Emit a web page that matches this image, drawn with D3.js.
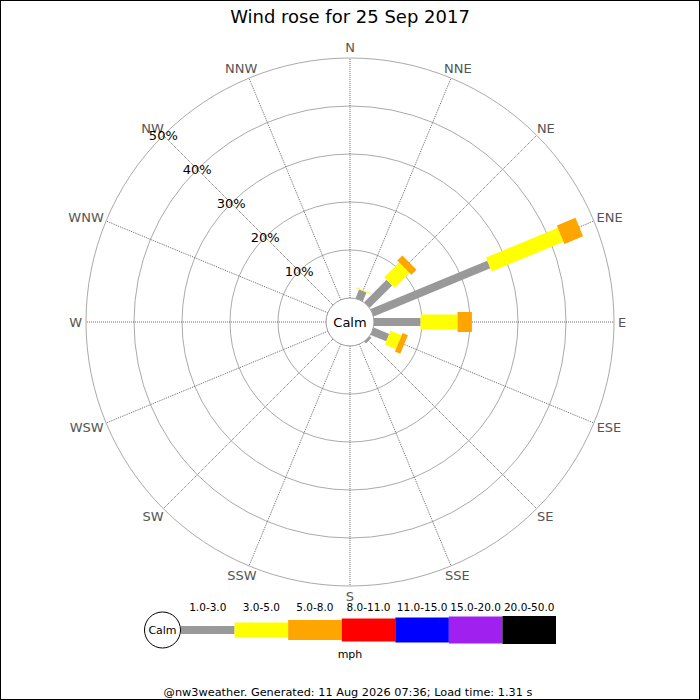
<!DOCTYPE html>
<html>
<head>
<meta charset="utf-8">
<script src="https://cdn.jsdelivr.net/npm/d3@7"></script>
<style>
  body { margin: 0; background: #fff; }
  text { font-family: "DejaVu Sans", sans-serif; }
</style>
</head>
<body>
<div id="chart"></div>
<script>
var width = 700, height = 700;
var cx = 350, cy = 322;

var directions = ["N","NNE","NE","ENE","E","ESE","SE","SSE","S","SSW","SW","WSW","W","WNW","NW","NNW"];
var speedBins = ["1.0-3.0","3.0-5.0","5.0-8.0","8.0-11.0","11.0-15.0","15.0-20.0","20.0-50.0"];
var binColors = ["#999999","#ffff00","#ffa500","#ff0000","#0000ff","#a020f0","#000000"];
var binWidths = [8, 15, 20, 23, 25, 27, 28];
var ringTicks = [10, 20, 30, 40, 50];

// % of time per direction, one array per speed bin
var bin1to3 = [0, 2.0, 6.6, 26.3, 9.7, 3.5, 0.5, 0, 0, 0, 0, 0, 0, 0, 0, 0];
var bin3to5 = [0, 0.2, 4.4, 16.2, 7.7, 2.5, 0, 0, 0, 0, 0, 0, 0, 0, 0, 0];
var bin5to8 = [0, 0, 1.5, 4.2, 3.0, 1.2, 0, 0, 0, 0, 0, 0, 0, 0, 0, 0];
var bin8to11 = [0, 0, 0, 0, 0, 0, 0, 0, 0, 0, 0, 0, 0, 0, 0, 0];
var bin11to15 = [0, 0, 0, 0, 0, 0, 0, 0, 0, 0, 0, 0, 0, 0, 0, 0];
var bin15to20 = [0, 0, 0, 0, 0, 0, 0, 0, 0, 0, 0, 0, 0, 0, 0, 0];
var bin20to50 = [0, 0, 0, 0, 0, 0, 0, 0, 0, 0, 0, 0, 0, 0, 0, 0];
var binValues = [bin1to3, bin3to5, bin5to8, bin8to11, bin11to15, bin15to20, bin20to50];

var calmR = 24, outerR = 264;
var r = d3.scaleLinear().domain([0, 50]).range([calmR, outerR]);
var angle = d3.scalePoint().domain(directions).range([0, 360 - 22.5]);

function pt(deg, rad) {
  var a = deg * Math.PI / 180;
  return [cx + Math.sin(a) * rad, cy - Math.cos(a) * rad];
}

var svg = d3.select("#chart").append("svg")
  .attr("width", width)
  .attr("height", height);

svg.append("rect")
  .attr("x", 0.5).attr("y", 0.5)
  .attr("width", width - 1).attr("height", height - 1)
  .attr("fill", "#fff").attr("stroke", "#000");

svg.append("text")
  .attr("x", cx).attr("y", 23)
  .attr("text-anchor", "middle")
  .attr("font-size", "18px")
  .text("Wind rose for 25 Sep 2017");

// rings
svg.selectAll("circle.ring")
  .data(ringTicks)
  .enter()
  .append("circle")
  .attr("class", "ring")
  .attr("cx", cx).attr("cy", cy)
  .attr("r", function(d){ return r(d); })
  .attr("fill", "none")
  .attr("stroke", "#aaaaaa");

// spokes
svg.selectAll("line.spoke")
  .data(directions)
  .enter()
  .append("line")
  .attr("class", "spoke")
  .attr("x1", function(d){ return pt(angle(d), calmR)[0]; })
  .attr("y1", function(d){ return pt(angle(d), calmR)[1]; })
  .attr("x2", function(d){ return pt(angle(d), outerR)[0]; })
  .attr("y2", function(d){ return pt(angle(d), outerR)[1]; })
  .attr("stroke", "#444")
  .attr("stroke-width", 0.8)
  .attr("stroke-dasharray", "1,1");

// direction labels, pushed out by half their size
svg.selectAll("text.dir")
  .data(directions)
  .enter()
  .append("text")
  .attr("class", "dir")
  .attr("font-size", "13px")
  .attr("fill", "#555")
  .attr("text-anchor", "middle")
  .attr("dy", "0.36em")
  .text(function(d){ return d; })
  .each(function(d){
    var w = this.getComputedTextLength();
    var a = angle(d) * Math.PI / 180;
    var p = pt(angle(d), 268);
    d3.select(this)
      .attr("x", p[0] + Math.sin(a) * w / 2)
      .attr("y", p[1] - Math.cos(a) * 6.5);
  });

// bars
var segs = [];
directions.forEach(function(d, i){
  var cum = 0;
  binValues.forEach(function(vals, b){
    if (vals[i] > 0) {
      segs.push({dir: d, bin: b, from: cum, to: cum + vals[i]});
      cum += vals[i];
    }
  });
});

svg.selectAll("line.bar")
  .data(segs)
  .enter()
  .append("line")
  .attr("class", "bar")
  .attr("x1", function(d){ return pt(angle(d.dir), r(d.from))[0]; })
  .attr("y1", function(d){ return pt(angle(d.dir), r(d.from))[1]; })
  .attr("x2", function(d){ return pt(angle(d.dir), r(d.to))[0]; })
  .attr("y2", function(d){ return pt(angle(d.dir), r(d.to))[1]; })
  .attr("stroke", function(d){ return binColors[d.bin]; })
  .attr("stroke-width", function(d){ return binWidths[d.bin]; });

// ring labels along NW
svg.selectAll("text.pct")
  .data(ringTicks)
  .enter()
  .append("text")
  .attr("class", "pct")
  .attr("x", function(d){ return pt(angle("NW"), r(d))[0]; })
  .attr("y", function(d){ return pt(angle("NW"), r(d))[1]; })
  .attr("dy", "0.36em")
  .attr("text-anchor", "middle")
  .attr("font-size", "13px")
  .text(function(d){ return d + "%"; });

svg.append("circle")
  .attr("cx", cx).attr("cy", cy).attr("r", calmR)
  .attr("fill", "#fff").attr("stroke", "#999");
svg.append("text")
  .attr("x", cx).attr("y", cy).attr("dy", "0.36em")
  .attr("text-anchor", "middle").attr("font-size", "13px")
  .text("Calm");

// legend
var legX = d3.scaleBand().domain(speedBins).range([181, 556]);
var legY = 630;
var leg = svg.append("g");

leg.append("circle")
  .attr("cx", 162.5).attr("cy", legY).attr("r", 18)
  .attr("fill", "#fff").attr("stroke", "#000");
leg.append("text")
  .attr("x", 162.5).attr("y", legY).attr("dy", "0.36em")
  .attr("text-anchor", "middle").attr("font-size", "11px")
  .text("Calm");

leg.selectAll("rect")
  .data(speedBins)
  .enter()
  .append("rect")
  .attr("x", function(d){ return legX(d); })
  .attr("y", function(d, i){ return legY - binWidths[i] / 2; })
  .attr("width", legX.bandwidth())
  .attr("height", function(d, i){ return binWidths[i]; })
  .attr("fill", function(d, i){ return binColors[i]; });

leg.selectAll("text.bin")
  .data(speedBins)
  .enter()
  .append("text")
  .attr("class", "bin")
  .attr("x", function(d){ return legX(d) + legX.bandwidth() / 2; })
  .attr("y", 611)
  .attr("text-anchor", "middle")
  .attr("font-size", "10.5px")
  .text(function(d){ return d; });

leg.append("text")
  .attr("x", 350).attr("y", 658)
  .attr("text-anchor", "middle").attr("font-size", "11px")
  .text("mph");

svg.append("text")
  .attr("x", 348).attr("y", 696)
  .attr("text-anchor", "middle").attr("font-size", "11.3px")
  .text("@nw3weather. Generated: 11 Aug 2026 07:36; Load time: 1.31 s");
</script>
</body>
</html>
